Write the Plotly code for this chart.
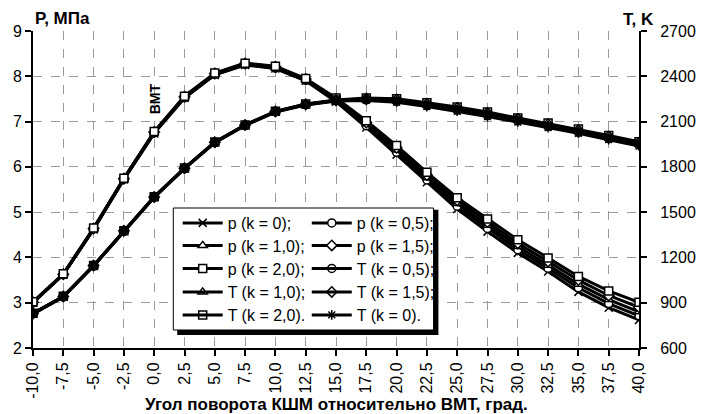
import plotly.graph_objects as go

# ---- data ----
angle = [-10.0, -7.5, -5.0, -2.5, 0.0, 2.5, 5.0, 7.5, 10.0, 12.5, 15.0,
         17.5, 20.0, 22.5, 25.0, 27.5, 30.0, 32.5, 35.0, 37.5, 40.0]
angle_labels = ["-10,0", "-7,5", "-5,0", "-2,5", "0,0", "2,5", "5,0", "7,5", "10,0",
                "12,5", "15,0", "17,5", "20,0", "22,5", "25,0", "27,5", "30,0",
                "32,5", "35,0", "37,5", "40,0"]

p_k0  = [3.00, 3.62, 4.62, 5.72, 6.74, 7.52, 8.03, 8.25, 8.17, 7.90, 7.44,
         6.87, 6.27, 5.66, 5.07, 4.57, 4.10, 3.69, 3.24, 2.89, 2.62]
p_k05 = [3.00, 3.62, 4.63, 5.73, 6.75, 7.53, 8.04, 8.26, 8.18, 7.91, 7.46,
         6.91, 6.32, 5.71, 5.13, 4.64, 4.17, 3.76, 3.33, 2.98, 2.71]
p_k10 = [3.01, 3.63, 4.63, 5.73, 6.76, 7.54, 8.05, 8.27, 8.19, 7.92, 7.48,
         6.95, 6.37, 5.76, 5.19, 4.71, 4.24, 3.83, 3.41, 3.07, 2.80]
p_k15 = [3.01, 3.63, 4.64, 5.74, 6.77, 7.55, 8.06, 8.28, 8.21, 7.94, 7.50,
         6.98, 6.42, 5.82, 5.26, 4.78, 4.31, 3.91, 3.50, 3.16, 2.90]
p_k20 = [3.02, 3.64, 4.65, 5.75, 6.78, 7.56, 8.07, 8.29, 8.22, 7.95, 7.52,
         7.02, 6.47, 5.88, 5.32, 4.85, 4.39, 3.99, 3.58, 3.26, 3.01]

T_k0  = [825, 938, 1143, 1373, 1598, 1788, 1960, 2074, 2163, 2210, 2236,
         2240, 2228, 2200, 2168, 2133, 2097, 2060, 2022, 1980, 1938]
T_k05 = [827, 939, 1144, 1374, 1599, 1789, 1961, 2075, 2165, 2212, 2238,
         2244, 2234, 2206, 2175, 2140, 2104, 2067, 2029, 1987, 1945]
T_k10 = [828, 940, 1145, 1375, 1600, 1790, 1962, 2076, 2166, 2214, 2240,
         2248, 2240, 2212, 2182, 2148, 2111, 2075, 2036, 1994, 1953]
T_k15 = [829, 941, 1146, 1376, 1601, 1791, 1963, 2077, 2167, 2215, 2242,
         2252, 2246, 2218, 2190, 2156, 2118, 2083, 2043, 2001, 1960]
T_k20 = [830, 942, 1147, 1377, 1602, 1792, 1964, 2078, 2168, 2216, 2243,
         2256, 2252, 2225, 2197, 2163, 2124, 2090, 2050, 2008, 1966]

p_ticks = [2, 3, 4, 5, 6, 7, 8, 9]
T_ticks = [600, 900, 1200, 1500, 1800, 2100, 2400, 2700]

FONT = "Liberation Sans, Arial, sans-serif"
BLACK = "#000000"

fig = go.Figure()
legend_layout = {}

PLOT_TOP, PLOT_H, PLOT_L, PLOT_W = 31, 317, 33, 622
ROW_Y = [223, 245.5, 268.5, 292, 315]   # pixel centres of legend rows
COL_X = [181.5, 314]                    # pixel left of legend columns

def add(name, x, y, symbol, yaxis, filled, col, row):
    if filled:
        marker = dict(symbol=symbol, size=8, color="white",
                      line=dict(color=BLACK, width=1.5))
    else:
        marker = dict(symbol=symbol, size=8, color=BLACK,
                      line=dict(color=BLACK, width=1.5))
    idx = len(fig.data) + 1
    lname = "legend" if idx == 1 else f"legend{idx}"
    fig.add_trace(go.Scatter(x=x, y=y, name=name, mode="lines+markers",
                             line=dict(color=BLACK, width=3),
                             marker=marker, yaxis=yaxis, legend=lname))
    legend_layout[lname] = dict(
        x=(COL_X[col] - PLOT_L) / PLOT_W,
        y=(PLOT_TOP + PLOT_H - ROW_Y[row]) / PLOT_H,
        xanchor="left", yanchor="middle", bgcolor="rgba(0,0,0,0)",
        borderwidth=0, itemwidth=40,
        font=dict(family=FONT, size=16, color=BLACK))

add("p (k = 0);",   angle, p_k0,  "x-thin-open", "y", False, 0, 0)
add("p (k = 0,5);", angle, p_k05, "circle", "y", True, 1, 0)
add("p (k = 1,0);", angle, p_k10, "triangle-up", "y", True, 0, 1)
add("p (k = 1,5);", angle, p_k15, "diamond", "y", True, 1, 1)
add("p (k = 2,0);", angle, p_k20, "square", "y", True, 0, 2)
add("T (k = 0,5);", angle, T_k05, "circle-open", "y2", False, 1, 2)
add("T (k = 1,0);", angle, T_k10, "triangle-up-open", "y2", False, 0, 3)
add("T (k = 1,5);", angle, T_k15, "diamond-open", "y2", False, 1, 3)
add("T (k = 2,0).", angle, T_k20, "square-open", "y2", False, 0, 4)
add("T (k = 0).",   angle, T_k0,  "asterisk-open", "y2", False, 1, 4)

grid = dict(showgrid=True, gridcolor="#9a9a9a", gridwidth=1, griddash="dash")
tickfont = dict(family=FONT, size=16, color=BLACK)

fig.update_layout(
    width=708, height=414,
    margin=dict(l=33, r=53, t=31, b=66),
    paper_bgcolor="white", plot_bgcolor="white",
    font=dict(family=FONT, size=16, color=BLACK),
    xaxis=dict(range=[-10, 40], tickvals=angle, ticktext=angle_labels,
               tickangle=-90, ticks="outside", ticklen=6, tickwidth=2,
               tickcolor=BLACK, showline=True, linecolor=BLACK, linewidth=2,
               tickfont=tickfont, zeroline=False, **grid),
    xaxis2=dict(range=[-10, 40], overlaying="x", anchor="y", side="bottom",
                tickvals=angle, ticks="inside", ticklen=6, tickwidth=2,
                tickcolor=BLACK, showticklabels=False, showgrid=False,
                showline=False, zeroline=False),
    yaxis=dict(range=[2, 9], tickvals=p_ticks, ticks="outside", ticklen=6,
               tickwidth=2, tickcolor=BLACK, showline=True, linecolor=BLACK,
               linewidth=2, tickfont=tickfont, zeroline=False, **grid),
    yaxis2=dict(range=[600, 2700], tickvals=T_ticks, overlaying="y",
                side="right", anchor="x", ticks="outside", ticklen=6,
                tickwidth=2, tickcolor=BLACK, showline=True, linecolor=BLACK,
                linewidth=2, tickfont=tickfont, showgrid=False, zeroline=False,
                ticklabelstandoff=10),
    yaxis3=dict(range=[2, 9], tickvals=p_ticks, overlaying="y", side="left",
                anchor="x", ticks="inside", ticklen=6, tickwidth=2,
                tickcolor=BLACK, showticklabels=False, showgrid=False,
                showline=False, zeroline=False),
    yaxis4=dict(range=[600, 2700], tickvals=T_ticks, overlaying="y",
                side="right", anchor="x", ticks="inside", ticklen=6,
                tickwidth=2, tickcolor=BLACK, showticklabels=False,
                showgrid=False, showline=False, zeroline=False),
    showlegend=True,
    **legend_layout,
)

# legend frame with shadow
fig.add_shape(type="rect", xref="paper", yref="paper",
              x0=0.2380, x1=0.6690, y0=0.041, y1=0.436,
              fillcolor=BLACK, line=dict(width=0), layer="above")
fig.add_shape(type="rect", xref="paper", yref="paper",
              x0=0.2315, x1=0.6610, y0=0.0568, y1=0.4416,
              fillcolor="white", line=dict(color=BLACK, width=1), layer="above")

fig.add_annotation(text="<b>P, МПа</b>", xref="paper", yref="paper", x=0.0,
                   y=1.0, xanchor="left", yanchor="bottom", showarrow=False,
                   yshift=1, font=dict(family=FONT, size=17, color=BLACK))
fig.add_annotation(text="<b>T, K</b>", xref="paper", yref="paper", x=1.0,
                   y=1.0, xanchor="right", yanchor="bottom", showarrow=False,
                   yshift=0, xshift=17, font=dict(family=FONT, size=17, color=BLACK))
fig.add_annotation(text="<b>Угол поворота КШМ относительно ВМТ, град.</b>",
                   xref="paper", yref="paper", x=0.5, y=-66 / 317,
                   xanchor="center", yanchor="bottom", showarrow=False,
                   yshift=-2, font=dict(family=FONT, size=17, color=BLACK))
fig.add_annotation(text="<b>ВМТ</b>", xref="x", yref="y", x=0.1, y=7.5,
                   textangle=-90, showarrow=False, xanchor="center",
                   yanchor="middle", font=dict(family=FONT, size=14, color=BLACK))

fig.write_html("out.html")
